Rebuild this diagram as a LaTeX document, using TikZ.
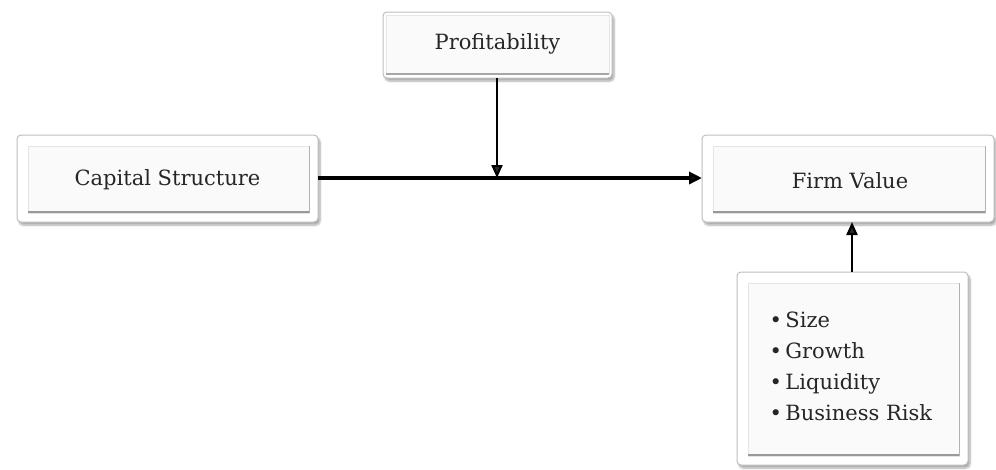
\documentclass[tikz,border=0pt]{standalone}
\usepackage{fontspec}
\setmainfont{DejaVu Serif}
\usetikzlibrary{arrows.meta,shadows.blur}
\tikzset{
  outerbox/.style={draw=black!25, line width=1pt, rounded corners=4pt, fill=white,
    blur shadow={shadow xshift=2pt, shadow yshift=-3pt, shadow blur steps=6, shadow opacity=35}},
  innerbox/.style={draw=black!10, line width=0.8pt, fill=black!2},
  bevelbottom/.style={draw=black!40, line width=2.5pt},
  label/.style={font=\fontsize{21}{25}\selectfont, text=black!85},
  mainarrow/.style={-{Triangle[length=13pt,width=12pt]}, line width=3.8pt},
  thinarrow/.style={-{Triangle[length=13pt,width=11pt]}, line width=2.2pt},
}
\newcommand{\bevelbox}[5]{%
  % #1 name, #2 left, #3 top, #4 right, #5 bottom (pixels, y downward)
  \path[outerbox] (#2,#3) rectangle (#4,#5);
  \path[innerbox] (#2+11,#3+11) rectangle (#4-9,#5-9);
  \draw[bevelbottom] (#2+11,#5-10) -- (#4-9,#5-10);
  \draw[draw=black!30, line width=1pt] (#4-9,#3+11) -- (#4-9,#5-9);
  \coordinate (#1-nw) at (#2,#3);
  \coordinate (#1-se) at (#4,#5);
}
\begin{document}
\begin{tikzpicture}[x=1pt,y=-1pt]
\useasboundingbox (0,0) rectangle (996,469);

\bevelbox{cap}{17}{135}{318}{222}
\node[label] (cs) at (167.5,180) {Capital Structure};
\coordinate (csE) at (318,178);

\path[outerbox] (383,12) rectangle (612,78);
\path[innerbox] (386,15) rectangle (609,73);
\draw[draw=black!35, line width=2pt] (386,74) -- (609,74);
\node[label] (pr) at (497.5,44) {Profitability};
\coordinate (prS) at (497,78);

\bevelbox{fv}{702}{135}{994}{222}
\node[label] (fv) at (850,181) {Firm Value};
\coordinate (fvW) at (702,178);
\coordinate (fvS) at (852,222);

\bevelbox{bl}{737}{272}{968}{465}
\node[label, align=left, anchor=west, font=\fontsize{21}{31}\selectfont] (bul) at (766,366)
  {\textbullet\,Size\\ \textbullet\,Growth\\ \textbullet\,Liquidity\\ \textbullet\,Business Risk};
\coordinate (blN) at (852,272);

\coordinate (mid) at (497,178);
\draw[mainarrow] (csE) -- (fvW);
\draw[thinarrow] (prS) -- (mid);
\draw[thinarrow] (blN) -- (fvS);
\end{tikzpicture}
\end{document}
